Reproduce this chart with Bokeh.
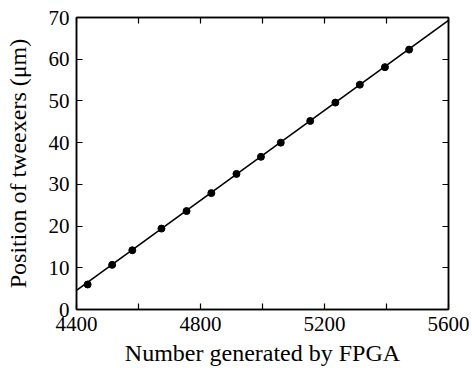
from bokeh.plotting import figure
from bokeh.models import LinearAxis, FixedTicker, Range1d
from bokeh.embed import file_html
from bokeh.resources import INLINE

# Data
fpga_number = [4436, 4515, 4580, 4674, 4755, 4835, 4916, 4995, 5059, 5154, 5235, 5314, 5395, 5473]
position_um = [6.0, 10.7, 14.2, 19.4, 23.6, 27.9, 32.5, 36.6, 40.0, 45.2, 49.6, 53.9, 58.1, 62.3]
fit_x = [4400, 5600]
fit_y = [4.6, 69.3]
x_ticks = [4400, 4600, 4800, 5000, 5200, 5400, 5600]
x_tick_labels = {4400: "4400", 4600: "", 4800: "4800", 5000: "", 5200: "5200", 5400: "", 5600: "5600"}
y_ticks = [0, 10, 20, 30, 40, 50, 60, 70]

FONT = "'Liberation Serif', 'DejaVu Serif', serif"

p = figure(width=472, height=368, output_backend="svg", toolbar_location=None,
           x_range=Range1d(4400, 5600), y_range=Range1d(0, 70),
           min_border_left=76, min_border_right=24, min_border_top=17, min_border_bottom=58,
           x_axis_label="Number generated by FPGA",
           y_axis_label="Position of tweexers (μm)")
p.grid.visible = False
p.outline_line_color = "black"
p.outline_line_width = 1.5
p.background_fill_color = "white"
p.border_fill_color = "white"

p.line(fit_x, fit_y, line_color="black", line_width=1.6)
p.scatter(fpga_number, position_um, size=7, color="black")

def style(ax, labels=True):
    ax.axis_line_color = "black"
    ax.axis_line_width = 1.5
    ax.major_tick_in = 6
    ax.major_tick_out = 0
    ax.major_tick_line_width = 1.2
    ax.minor_tick_line_color = None
    if labels:
        ax.major_label_text_font = FONT
        ax.major_label_text_font_size = "21px"
        ax.major_label_text_color = "black"
        ax.axis_label_text_font = FONT
        ax.axis_label_text_font_style = "normal"
        ax.axis_label_text_color = "black"
    else:
        ax.major_label_text_font_size = "0px"
        ax.major_label_standoff = 0

xa = p.xaxis[0]
xa.ticker = FixedTicker(ticks=x_ticks)
xa.major_label_overrides = x_tick_labels
style(xa)
xa.major_label_standoff = 7
xa.axis_label_standoff = 6
xa.axis_label_text_font_size = "24px"

ya = p.yaxis[0]
ya.ticker = FixedTicker(ticks=y_ticks)
style(ya)
ya.major_label_standoff = 7
ya.axis_label_standoff = 15
ya.axis_label_text_font_size = "24px"

top = LinearAxis(ticker=FixedTicker(ticks=x_ticks))
style(top, labels=False)
top.major_label_overrides = {t: "" for t in x_ticks}
p.add_layout(top, "above")

right = LinearAxis(ticker=FixedTicker(ticks=y_ticks))
style(right, labels=False)
right.major_label_overrides = {t: "" for t in y_ticks}
p.add_layout(right, "right")

open("out.html", "w").write(file_html(p, INLINE))
